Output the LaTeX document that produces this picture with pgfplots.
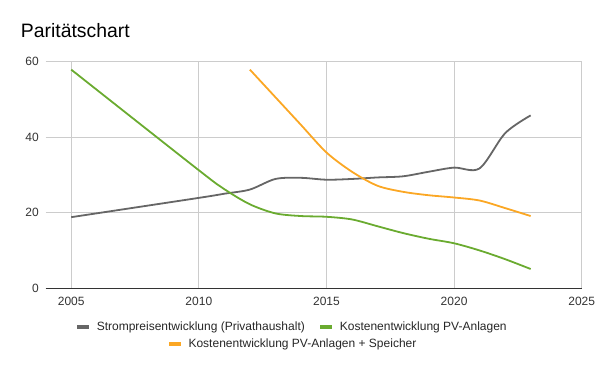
\documentclass[border=0pt]{standalone}
\usepackage{fontspec}
\setmainfont{Liberation Sans}
\usepackage{pgfplots}
\pgfplotsset{compat=1.18}
\definecolor{cgrey}{HTML}{666666}
\definecolor{cgreen}{HTML}{6AAB30}
\definecolor{corange}{HTML}{FBA724}
\definecolor{gridgray}{HTML}{CCCCCC}
\pgfplotsset{
  common/.style={
    at={(0pt,0pt)}, anchor=south west,
    scale only axis, width=536pt, height=227pt,
    xmin=2004, xmax=2025, ymin=0, ymax=60,
    legend image code/.code={%
      \fill[##1, draw=none] (0pt,-2pt) rectangle (12pt,2pt);
      \path[draw=none, fill=none] (20pt,0pt);},
    legend style={draw=none, fill=none, anchor=center,
      font=\fontsize{12}{14}\selectfont, text=black!85,
      column sep=0pt, row sep=0pt,
      nodes={inner xsep=0pt, inner ysep=1pt},
      /tikz/every even column/.append style={column sep=15pt}},
  }
}
\begin{document}
\begin{tikzpicture}
\path[use as bounding box] (-45.7pt,-82.7pt) rectangle (554.3pt,288.3pt);
\begin{axis}[common,
  xtick={2005,2010,...,2025}, ytick={0,20,40,60},
  grid=major, major grid style={color=gridgray, line width=0.9pt},
  major tick length=0pt,
  axis x line*=bottom, axis y line*=left,
  y axis line style={draw=none},
  x axis line style={draw=black!80, line width=1pt},
  /pgf/number format/assume math mode=true,
  /pgf/number format/1000 sep={},
  ticklabel style={font=\fontsize{12}{14}\selectfont, text=black!80},
  xticklabel style={anchor=north, inner sep=0pt, yshift=-8.4pt},
  yticklabel style={anchor=east, inner sep=0pt, xshift=-6.7pt},
  legend columns=2,
  legend style={at={(axis description cs:0.459,-0.169)}},
]
\addplot[cgrey, line width=1.8pt, smooth] coordinates {
(2005,18.8) (2010,23.9) (2011,25.0) (2012,26.1) (2013,28.9) (2014,29.2) (2015,28.7)
(2016,28.9) (2017,29.3) (2018,29.6) (2019,30.8) (2020,31.9) (2021,31.7)
(2022,41.0) (2023,45.7)};
\addlegendentry{Strompreisentwicklung (Privathaushalt)}
\addplot[cgreen, line width=1.8pt, smooth] coordinates {
(2005,57.8) (2010,31.2) (2011,26.2) (2012,22.2) (2013,19.8) (2014,19.1)
(2015,18.9) (2016,18.2) (2017,16.4) (2018,14.6) (2019,13.1) (2020,11.9)
(2021,10.0) (2022,7.7) (2023,5.1)};
\addlegendentry{Kostenentwicklung PV-Anlagen}
\end{axis}
\begin{axis}[common, hide axis,
  legend style={at={(axis description cs:0.4604,-0.2467)}},
]
\addplot[corange, line width=1.8pt, smooth] coordinates {
(2012,57.8) (2013,50.5) (2014,43.2) (2015,35.9) (2016,30.8) (2017,27.1) (2018,25.5) (2019,24.6)
(2020,24.0) (2021,23.2) (2022,21.2) (2023,19.1)};
\addlegendentry{Kostenentwicklung PV-Anlagen + Speicher}
\end{axis}
\node[anchor=base west, inner sep=0pt, font=\fontsize{19.4}{23}\selectfont, text=black]
  at (-25pt,251pt) {Paritätschart};
\end{tikzpicture}
\end{document}
